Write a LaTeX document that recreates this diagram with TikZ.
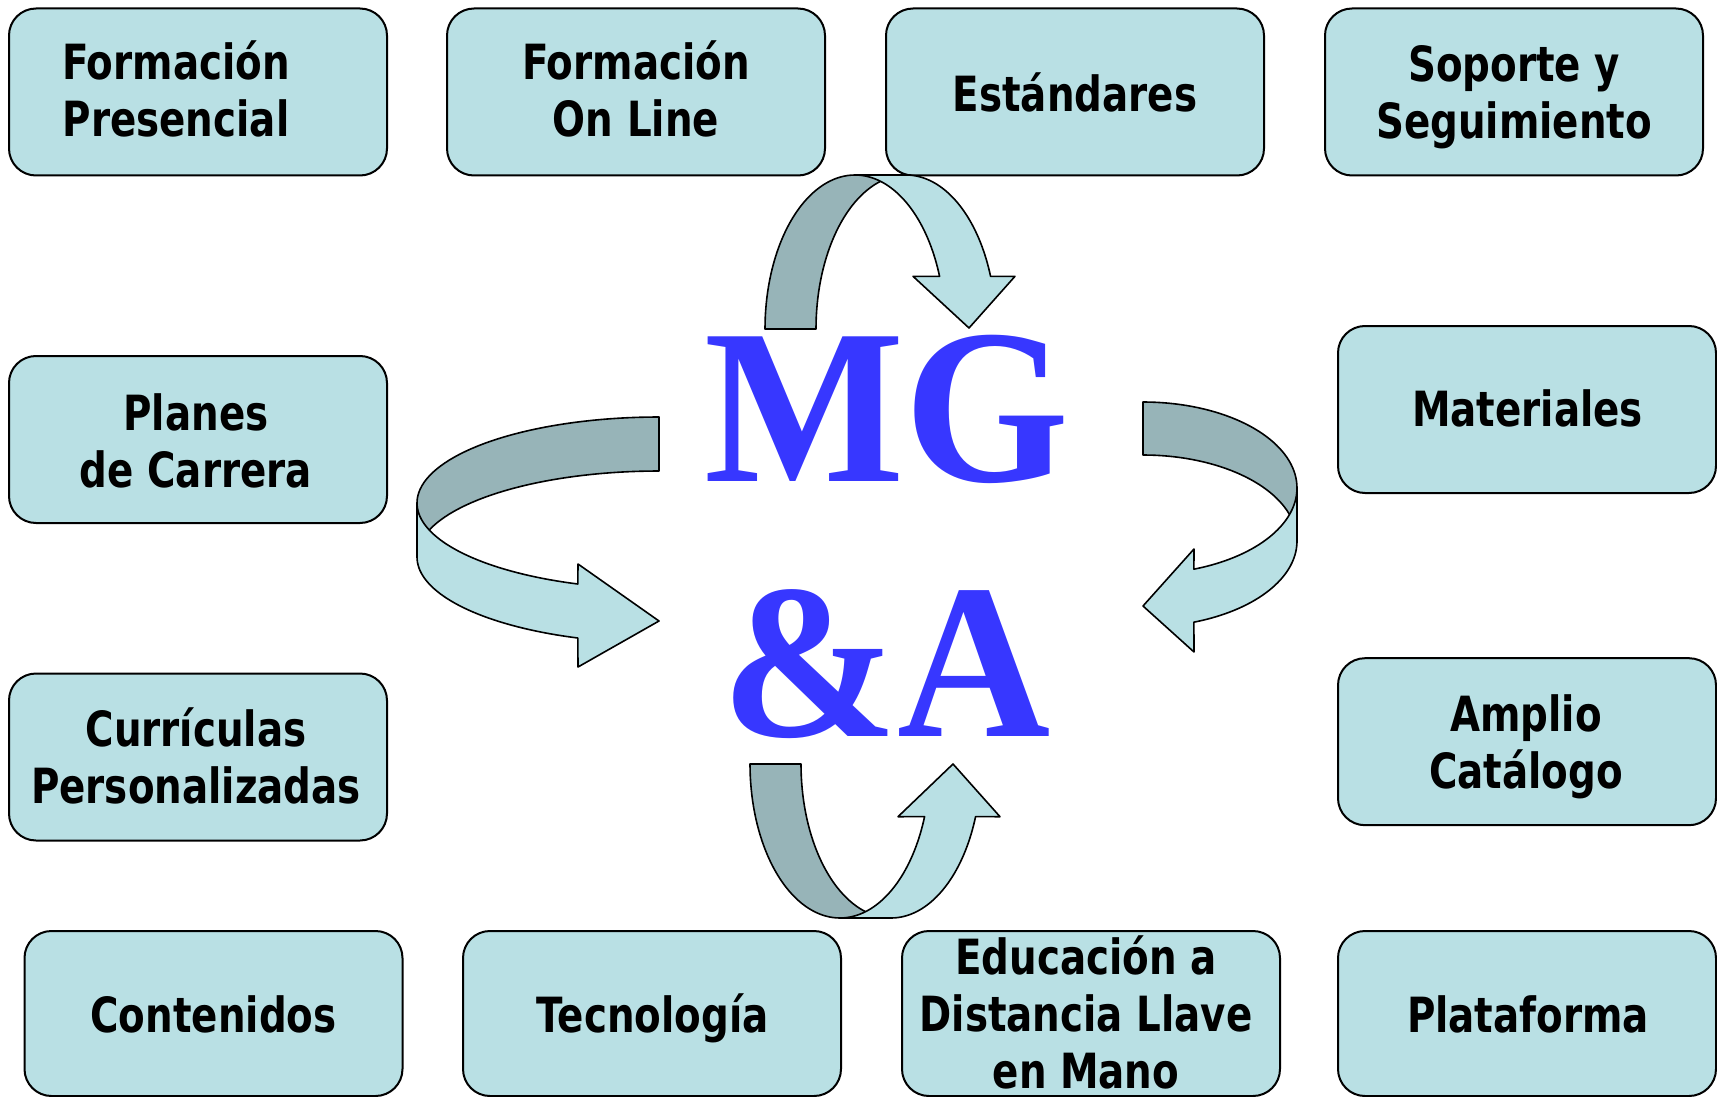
\documentclass[tikz,border=0pt]{standalone}
\usepackage{fontspec}
\setmainfont{Liberation Serif}[FakeStretch=0.96]
\newfontfamily\lblfont{DejaVu Sans}[FakeStretch=0.80]
\definecolor{boxfill}{RGB}{185,224,228}
\definecolor{ribdark}{RGB}{151,180,184}
\definecolor{mgblue}{RGB}{55,55,255}
\tikzset{
  box/.style={draw=black, line width=2pt, fill=boxfill, rounded corners=27pt,
    minimum width=378pt, minimum height=167pt, inner sep=0pt},
  lowbox/.style={box, minimum height=165pt},
  lbl/.style={font=\lblfont\bfseries\fontsize{48.5}{57}\selectfont,
    align=center, inner sep=0pt, anchor=base},
  rib/.style={draw=black, line width=1.6pt, line join=round},
  ribback/.style={rib, fill=ribdark},
  ribfront/.style={rib, fill=boxfill},
  mg/.style={font=\bfseries\fontsize{221}{221}\selectfont, text=mgblue,
    inner sep=0pt, anchor=base}
}
\begin{document}
\begin{tikzpicture}[x=1pt,y=-1pt]
\useasboundingbox (0,0) rectangle (1717,1097);
% boxes
\node[box] (b1) at (198,92) {};
\node[box] (b2) at (636,92) {};
\node[box] (b3) at (1075,92) {};
\node[box] (b4) at (1514,92) {};
\node[box] (b5) at (198,439.5) {};
\node[box] (b6) at (198,757) {};
\node[box] (b7) at (1527,409.5) {};
\node[box] (b8) at (1527,741.7) {};
\node[lowbox] (b9) at (213.5,1013.5) {};
\node[lowbox] (b10) at (652,1013.5) {};
\node[lowbox] (b11) at (1091,1013.5) {};
\node[lowbox] (b12) at (1527,1013.5) {};
% labels (anchor = baseline of the last line)
\node[lbl] (t1) at (176,137) {Formación\\Presencial};
\node[lbl] (t2) at (636,137) {Formación\\On Line};
\node[lbl] (t3) at (1075,111.7) {Estándares};
\node[lbl] (t4) at (1514,139) {Soporte y\\Seguimiento};
\node[lbl] (t5) at (196,487) {Planes\\de Carrera};
\node[lbl] (t6) at (196,803) {Currículas\\Personalizadas};
\node[lbl] (t7) at (1527.5,426.7) {Materiales};
\node[lbl] (t8) at (1526,788) {Amplio\\Catálogo};
\node[lbl] (t9) at (213.5,1032.6) {Contenidos};
\node[lbl] (t10) at (652.6,1032.6) {Tecnología};
\node[lbl] (t11) at (1086,1088) {Educación a\\Distancia Llave\\en Mano};
\node[lbl] (t12) at (1528,1032.6) {Plataforma};
% left ribbon arrow
\draw[ribback] plot[domain=270:180,samples=40] ({659+242*cos(\x)},{503+86*sin(\x)})
  -- plot[domain=180:270,samples=40] ({659+242*cos(\x)},{557+86*sin(\x)}) -- cycle;
\draw[ribfront] plot[domain=180:109.6,samples=40] ({659+242*cos(\x)},{503+86*sin(\x)})
  -- (578,564) -- (659,621) -- (578,667)
  -- plot[domain=109.6:180,samples=40] ({659+242*cos(\x)},{557+86*sin(\x)}) -- cycle;
% right ribbon arrow
\draw[ribback] plot[domain=270:360,samples=40] ({1143+154*cos(\x)},{488+86*sin(\x)})
  -- plot[domain=360:270,samples=40] ({1143+154*cos(\x)},{541+86*sin(\x)}) -- cycle;
\draw[ribfront] plot[domain=0:70.7,samples=40] ({1143+154*cos(\x)},{488+86*sin(\x)})
  -- (1194,549) -- (1143,606) -- (1194,652)
  -- plot[domain=70.7:0,samples=40] ({1143+154*cos(\x)},{541+86*sin(\x)}) -- cycle;
% top ribbon arrow
\draw[ribback] plot[domain=180:270,samples=40] ({855+90*cos(\x)},{329+154*sin(\x)})
  -- plot[domain=270:180,samples=40] ({906+90*cos(\x)},{329+154*sin(\x)}) -- cycle;
\draw[ribfront] plot[domain=270:340,samples=40] ({855+90*cos(\x)},{329+154*sin(\x)})
  -- (913,276.3) -- (969,328) -- (1015,276.3)
  -- plot[domain=340:270,samples=40] ({906+90*cos(\x)},{329+154*sin(\x)}) -- cycle;
% bottom ribbon arrow
\draw[ribback] plot[domain=180:90,samples=40] ({840+90*cos(\x)},{764+154*sin(\x)})
  -- plot[domain=90:180,samples=40] ({891+90*cos(\x)},{764+154*sin(\x)}) -- cycle;
\draw[ribfront] plot[domain=90:20,samples=40] ({840+90*cos(\x)},{764+154*sin(\x)})
  -- (898,816.7) -- (953,764) -- (1000,816.7)
  -- plot[domain=20:90,samples=40] ({891+90*cos(\x)},{764+154*sin(\x)}) -- cycle;
% central text
\node[mg] (mg) at (887,481.7) {MG};
\node[mg] (amp) at (886,736.7) {\&A};
\end{tikzpicture}
\end{document}
